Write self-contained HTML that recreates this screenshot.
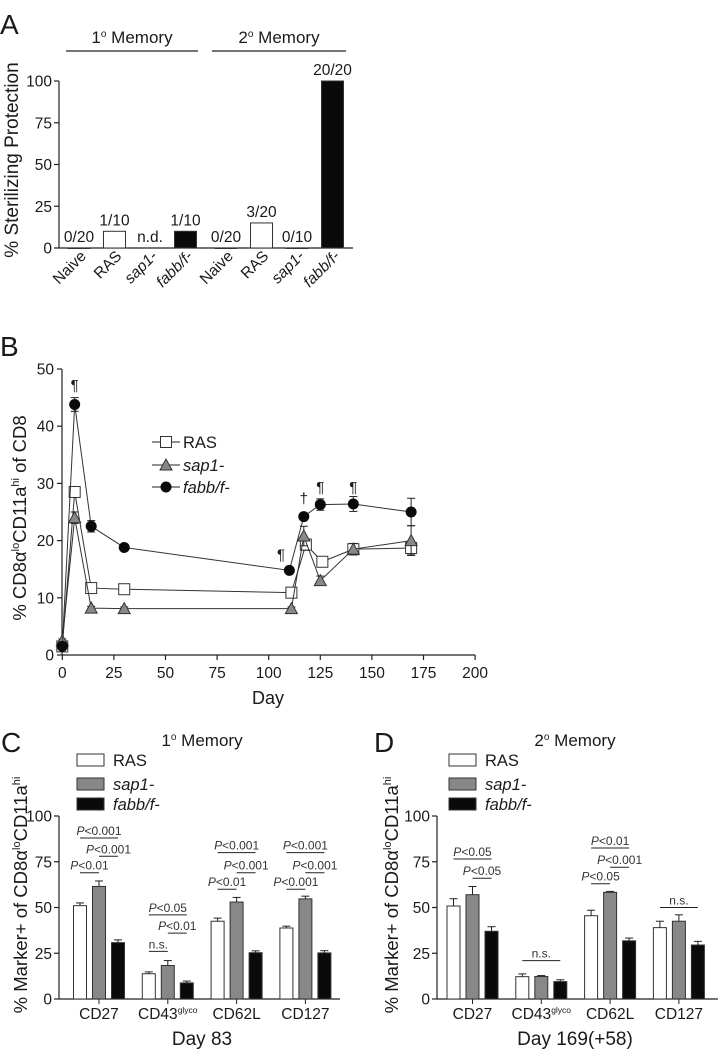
<!DOCTYPE html>
<html><head><meta charset="utf-8"><style>
body{margin:0;background:#fff}
svg{display:block;font-family:"Liberation Sans",Arial,sans-serif}
</style></head><body>
<svg id="fig" width="721" height="1050" viewBox="0 0 721 1050" xmlns="http://www.w3.org/2000/svg"></svg>
<script>
// ---------- Panel A data ----------
const catsA = ['Naive','RAS','sap1-','fabb/f-','Naive','RAS','sap1-','fabb/f-'];
const valsA = [0,10,null,10,0,15,0,100];
const countLabelsA = ['0/20','1/10','n.d.','1/10','0/20','3/20','0/10','20/20'];
const groupA = ['w','w','g','k','w','w','w','k'];
const ticksA = [0,25,50,75,100];
// ---------- Panel B data ----------
const daysRAS = [0,6,14,30,111,118,126,141,169];
const valsRAS = [1.5,28.5,11.7,11.5,10.9,19.3,16.3,18.5,18.7];
const errRAS = [0.5,0.8,0.6,0.5,0.6,1.0,0.8,1.0,1.2];
const daysSap = [0,6,14,30,111,117,125,141,169];
const valsSap = [2.5,24,8.2,8.1,8.1,20.8,13,18.5,20];
const errSap = [0.3,1.0,0.3,0.3,0.3,1.7,0.8,1.0,2.6];
const daysFab = [0,6,14,30,110,117,125,141,169];
const valsFab = [1.5,43.8,22.5,18.8,14.8,24.2,26.3,26.4,25];
const errFab = [0.3,1.2,1.0,0.4,0.4,0.5,1.0,1.3,2.4];
const sigDays = [6,106,117,125,141];
const sigVals = [47.2,17.6,27.4,29.4,29.4];
const sigMarks = ['¶','¶','†','¶','¶'];
const ticksBx = [0,25,50,75,100,125,150,175,200];
const ticksBy = [0,10,20,30,40,50];
// ---------- Panel C/D data ----------
const markers = ['CD27','CD43','CD62L','CD127'];
const seriesNames = ['RAS','sap1-','fabb/f-'];
const valsC = [[51,61.5,30.8],[13.8,18.3,8.8],[42.5,53,25.3],[38.8,54.7,25.2]];
const errC = [[1.5,3,1.5],[1,2.7,1],[1.7,2.5,1],[1,1.5,1.2]];
const valsD = [[50.8,57,37],[12.2,12.3,9.5],[45.5,58.3,31.8],[39,42.5,29.5]];
const errD = [[4,4.5,2.5],[1.5,0.5,1],[3,0.5,1.5],[3.5,3.5,2]];
const ticksCD = [0,25,50,75,100];
const annC = [[0,0,2,88,'P<0.001'],[0,1,2,78,'P<0.001'],[0,0,1,69,'P<0.01'],
  [1,0,2,46,'P<0.05'],[1,1,2,36,'P<0.01'],[1,0,1,26,'n.s.'],
  [2,0,2,80,'P<0.001'],[2,1,2,69,'P<0.001'],[2,0,1,60,'P<0.01'],
  [3,0,2,80,'P<0.001'],[3,1,2,69,'P<0.001'],[3,0,1,60,'P<0.001']];
const annD = [[0,0,2,76.5,'P<0.05'],[0,1,2,66,'P<0.05'],[1,0,2,21,'n.s.'],
  [2,0,2,82.5,'P<0.01'],[2,1,2,72,'P<0.001'],[2,0,1,63,'P<0.05'],[3,0,2,50,'n.s.']];

const NS='http://www.w3.org/2000/svg';
const svg=document.getElementById('fig');
function mk(tag,attrs,name,parent){
  const el=document.createElementNS(NS,tag);
  for(const k in attrs) el.setAttribute(k,attrs[k]);
  
  
  (parent||svg).appendChild(el);
  return el;
}
function txt(x,y,s,size,name,extra){
  const a=Object.assign({x:x,y:y,'font-size':size,fill:'#1a1a1a'},extra||{});
  const t=mk('text',a,name);
  t.textContent=s;return t;
}
function line(x1,y1,x2,y2,name,w){
  return mk('line',{x1:x1,y1:y1,x2:x2,y2:y2,stroke:'#222','stroke-width':w||1.2},name);
}
function italicName(s){return s!=='RAS' && s!=='Naive';}
const TF=15.5;

// ================= Panel A =================
txt(0,34,'A',28,'panel-a-label');
function yA(v){return 248-v*1.67;}
function xA(i){return 79+i*35.5+(i>=4?5:0);}
line(59,yA(0),353,yA(0),'a-x-axis');
line(59,yA(0),59,yA(100),'a-y-axis');
ticksA.forEach(t=>{line(54,yA(t),59,yA(t),'a-y-tick');txt(52,yA(t)+5.5,String(t),TF,'a-y-tick-label',{'text-anchor':'end'});});
txt(0,0,'% Sterilizing Protection',19,'a-y-axis-title',{'text-anchor':'middle',transform:'translate(18,160) rotate(-90)'});
line(66,51,198,51,'a-group-line-1');
line(212,51,346,51,'a-group-line-2');
[[132,'1'],[279,'2']].forEach(([cx,n])=>{
  const t=mk('text',{x:cx,y:43,'font-size':17,'text-anchor':'middle',fill:'#1a1a1a'},'a-group-title');
  t.innerHTML=n+'<tspan font-size="10" dy="-6">o</tspan><tspan dy="6"> Memory</tspan>';
});
catsA.forEach((c,i)=>{
  const cx=xA(i),v=valsA[i];
  let top=yA(0);
  if(v!==null){
    top=yA(v);
    const fill=groupA[i]==='k'?'#0a0a0a':'#fff';
    mk('rect',{x:cx-11,y:top,width:22,height:Math.max(yA(0)-top,0.5),fill:fill,stroke:'#333','stroke-width':1},'a-bar-'+i);
  }
  txt(cx,top-6,countLabelsA[i],TF,'a-count-label',{'text-anchor':'middle'});
  const a={'text-anchor':'end',transform:`translate(${cx+8},257) rotate(-45)`};
  if(italicName(c)) a['font-style']='italic';
  txt(0,0,c,TF,'a-x-tick-label',a);
});

// ================= Panel B =================
txt(0,356,'B',28,'panel-b-label');
function xB(d){return 62.3+d*2.064;}
function yB(v){return 655-v*5.72;}
line(62,655,475,655,'b-x-axis');
line(62,655,62,369,'b-y-axis');
ticksBx.forEach(t=>{line(xB(t),655,xB(t),660,'b-x-tick');txt(xB(t),678,String(t),TF,'b-x-tick-label',{'text-anchor':'middle'});});
ticksBy.forEach(t=>{line(57,yB(t),62,yB(t),'b-y-tick');txt(54,yB(t)+5.5,String(t),TF,'b-y-tick-label',{'text-anchor':'end'});});
txt(268,704,'Day',18,'b-x-axis-title',{'text-anchor':'middle'});
{const t=mk('text',{'font-size':18.5,'text-anchor':'middle',fill:'#1a1a1a',transform:'translate(26,518) rotate(-90)'},'b-y-axis-title');
 t.innerHTML='% CD8α<tspan font-size="11" dy="-7">lo</tspan><tspan dy="7">CD11a</tspan><tspan font-size="11" dy="-7">hi</tspan><tspan dy="7"> of CD8</tspan>';}
function series(days,vals,errs,kind,name){
  const pts=days.map((d,i)=>xB(d)+','+yB(vals[i])).join(' ');
  mk('polyline',{points:pts,fill:'none',stroke:'#333','stroke-width':1},name+'-line');
  days.forEach((d,i)=>{
    const x=xB(d),y=yB(vals[i]),e=errs[i]*5.72;
    line(x,y-e,x,y+e,name+'-error-bar',1);
    line(x-4,y-e,x+4,y-e,name+'-error-cap',1);
    line(x-4,y+e,x+4,y+e,name+'-error-cap',1);
    drawMarker(kind,x,y,name+'-point');
  });
}
function drawMarker(kind,x,y,name){
  if(kind==='sq') mk('rect',{x:x-5.5,y:y-5.5,width:11,height:11,fill:'#fff',stroke:'#333','stroke-width':1},name);
  else if(kind==='tri') mk('polygon',{points:`${x},${y-6} ${x-6},${y+5} ${x+6},${y+5}`,fill:'#888',stroke:'#333','stroke-width':1},name);
  else mk('circle',{cx:x,cy:y,r:5.5,fill:'#0a0a0a'},name);
}
series(daysRAS,valsRAS,errRAS,'sq','b-ras');
series(daysSap,valsSap,errSap,'tri','b-sap1');
series(daysFab,valsFab,errFab,'circ','b-fabb');
sigDays.forEach((d,i)=>txt(xB(d),yB(sigVals[i])+5,sigMarks[i],15,'b-significance-mark',{'text-anchor':'middle'}));
[['sq','RAS',442],['tri','sap1-',465],['circ','fabb/f-',487]].forEach(([k,s,y])=>{
  line(152,y,180,y,'b-legend-line',1);
  drawMarker(k,166,y,'b-legend-marker');
  const a={};if(italicName(s))a['font-style']='italic';
  txt(183,y+6,s,16.5,'b-legend-label',a);
});

// ================= Panels C & D =================
function barPanel(o){
  const p=o.p, y=v=>999-v*1.83, cx=(m,s)=>o.c0+m*68.8+(s-1)*19;
  txt(o.lx,752,o.letter,28,'panel-'+p+'-label');
  {const t=mk('text',{x:o.tx,y:746,'font-size':17,'text-anchor':'middle',fill:'#1a1a1a'},p+'-title');
   t.innerHTML=o.num+'<tspan font-size="10" dy="-6">o</tspan><tspan dy="6"> Memory</tspan>';}
  line(o.ax,999,o.ax2,999,p+'-x-axis');
  line(o.ax,999,o.ax,816,p+'-y-axis');
  ticksCD.forEach(t=>{line(o.ax-5,y(t),o.ax,y(t),p+'-y-tick');txt(o.ax-7,y(t)+5.5,String(t),TF,p+'-y-tick-label',{'text-anchor':'end'});});
  {const t=mk('text',{'font-size':18.5,'text-anchor':'middle',fill:'#1a1a1a',transform:`translate(${o.ylx},${895}) rotate(-90)`},p+'-y-axis-title');
   t.innerHTML='% Marker+ of CD8α<tspan font-size="11" dy="-7">lo</tspan><tspan dy="7">CD11a</tspan><tspan font-size="11" dy="-7">hi</tspan>';}
  const fills=['#fff','#888','#0a0a0a'];
  seriesNames.forEach((s,si)=>{
    const ly=[760,784,804][si];
    mk('rect',{x:o.legx,y:ly-6,width:27,height:12,fill:fills[si],stroke:'#333','stroke-width':1},p+'-legend-swatch');
    const a={};if(italicName(s))a['font-style']='italic';
    txt(o.legx+36,ly+6,s,16.5,p+'-legend-label',a);
  });
  markers.forEach((m,mi)=>{
    o.vals[mi].forEach((v,si)=>{
      const x=cx(mi,si);
      mk('rect',{x:x-6.5,y:y(v),width:13,height:999-y(v),fill:fills[si],stroke:'#333','stroke-width':1},p+'-bar-'+m+'-'+si);
      const e=o.errs[mi][si]*1.83;
      line(x,y(v),x,y(v)-e,p+'-error-bar',1);
      line(x-4,y(v)-e,x+4,y(v)-e,p+'-error-cap',1);
    });
    const xm=cx(mi,1);
    line(xm,999,xm,1004,p+'-x-tick',1);
    if(m==='CD43'){
      const t=mk('text',{x:xm,y:1019,'font-size':TF,'text-anchor':'middle',fill:'#1a1a1a'},p+'-x-tick-label');
      t.innerHTML='CD43<tspan font-size="8.5" dy="-6">glyco</tspan>';
    } else txt(xm,1019,m,TF,p+'-x-tick-label',{'text-anchor':'middle'});
  });
  o.ann.forEach(([mi,a,b,v,lab])=>{
    const x1=cx(mi,a),x2=cx(mi,b),yy=y(v);
    line(x1,yy,x2,yy,p+'-significance-line',1);
    const t=mk('text',{x:(x1+x2)/2,y:yy-3,'font-size':12,'text-anchor':'middle',fill:'#333'},p+'-significance-label');
    if(lab[0]==='P') t.innerHTML='<tspan font-style="italic">P</tspan>'+lab.slice(1);
    else t.textContent=lab;
  });
  txt(o.tx,1045,o.xtitle,19,p+'-x-axis-title',{'text-anchor':'middle'});
}
barPanel({p:'c',letter:'C',lx:1,num:'1',tx:202,ax:59,ax2:340,c0:99,ylx:27,legx:77,vals:valsC,errs:errC,ann:annC,xtitle:'Day 83'});
barPanel({p:'d',letter:'D',lx:374,num:'2',tx:575,ax:437,ax2:718,c0:472.5,ylx:398,legx:449,vals:valsD,errs:errD,ann:annD,xtitle:'Day 169(+58)'});
</script>
</body></html>
